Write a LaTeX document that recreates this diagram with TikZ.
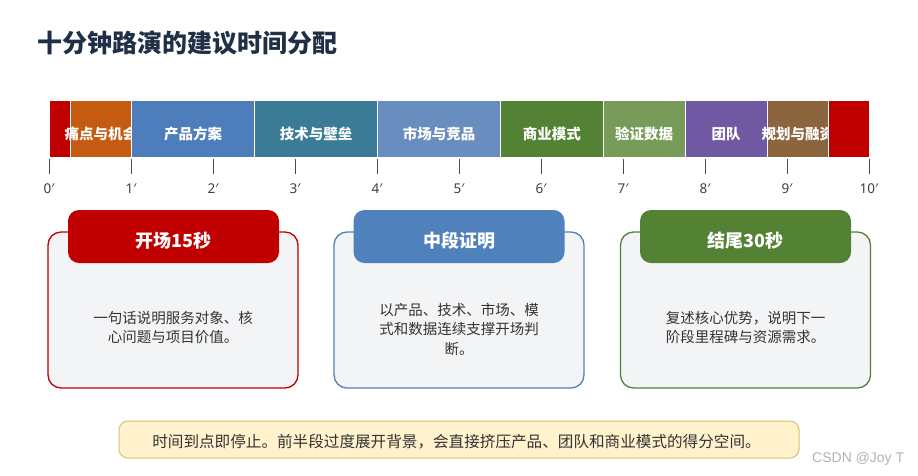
\documentclass[tikz,border=0pt]{standalone}
\usepackage{fontspec}
\setmainfont{Noto Sans CJK SC}
\newfontfamily\latinsans{Noto Sans}
\newfontfamily\wmfont{Liberation Sans}
\definecolor{titlec}{HTML}{1F2F45}
\definecolor{cred}{HTML}{C00000}
\definecolor{corange}{HTML}{C55A11}
\definecolor{cblueA}{HTML}{4D7EBB}
\definecolor{cteal}{HTML}{3B7B96}
\definecolor{cblueB}{HTML}{6A8DBF}
\definecolor{cgreenA}{HTML}{548235}
\definecolor{cgreenB}{HTML}{779C5A}
\definecolor{cpurple}{HTML}{7058A2}
\definecolor{cbrown}{HTML}{8C643E}
\definecolor{chead}{HTML}{4F81BD}
\definecolor{cardfill}{HTML}{F3F4F6}
\definecolor{bodytext}{HTML}{333333}
\definecolor{notefill}{HTML}{FFF2CC}
\definecolor{notedraw}{HTML}{D8C070}
\tikzset{
  segbox/.style={draw=white, line width=1.4pt, inner sep=0pt, minimum height=58, anchor=west},
  seglabel/.style={text=white, font=\bfseries\fontsize{14.5}{16}\selectfont, inner sep=0pt},
  tickline/.style={draw=black!70, line width=1pt},
  ticklabel/.style={text=black!75, font=\latinsans\fontsize{13.5}{15}\selectfont, inner sep=0pt},
  cardbox/.style={rounded corners=13pt, fill=cardfill, line width=1.3pt, minimum width=250, minimum height=156, inner sep=0pt},
  headbox/.style={rounded corners=11pt, minimum width=211, minimum height=53, inner sep=0pt},
  headtext/.style={text=white, font=\bfseries\fontsize{18}{20}\selectfont, inner sep=0pt},
  bodybox/.style={text=bodytext, align=center, font=\fontsize{14.5}{19.5}\selectfont, inner sep=0pt},
}
\begin{document}
\begin{tikzpicture}[x=1pt, y=-1pt]
\useasboundingbox[fill=white] (0,0) rectangle (918,475);
% title
\node[anchor=west, text=titlec, font=\bfseries\fontsize{25}{28}\selectfont, inner sep=0pt] (title) at (37,43) {十分钟路演的建议时间分配};
% segments
\foreach \a/\b/\c/\t/\n in {0/0.25/cred//s0, 0.25/1/corange/痛点与机会/s1, 1/2.5/cblueA/产品方案/s2, 2.5/4/cteal/技术与壁垒/s3, 4/5.5/cblueB/市场与竞品/s4, 5.5/6.75/cgreenA/商业模式/s5, 6.75/7.75/cgreenB/验证数据/s6, 7.75/8.75/cpurple/团队/s7, 8.75/9.5/cbrown/规划与融资/s8, 9.5/10/cred//s9}{
  \pgfmathsetmacro{\xa}{49+82*\a}
  \pgfmathsetmacro{\w}{82*(\b-\a)}
  \node[segbox, fill=\c, minimum width=\w] (\n) at (\xa,129) {};
  \node[seglabel] (\n l) at ([yshift=-5pt]\n.center) {\t};
}
% ticks
\foreach \i in {0,...,10}{
  \pgfmathsetmacro{\xt}{49+82*\i}
  \coordinate (t\i a) at (\xt,159);
  \coordinate (t\i b) at (\xt,174);
  \draw[tickline] (t\i a) -- (t\i b);
  \node[ticklabel] (tl\i) at (\xt,189) {\i′};
}
% cards
\node[cardbox, draw=cred] (c1) at (173,310) {};
\node[headbox, fill=cred] (h1) at (173.5,236.5) {};
\node[headtext] (h1t) at (173.5,241) {开场15秒};
\node[bodybox] (b1) at (173,327.5) {一句话说明服务对象、核\\心问题与项目价值。};

\node[cardbox, draw=chead] (c2) at (459,310) {};
\node[headbox, fill=chead] (h2) at (459,236.5) {};
\node[headtext] (h2t) at (459,241) {中段证明};
\node[bodybox] (b2) at (459,329) {以产品、技术、市场、模\\式和数据连续支撑开场判\\断。};

\node[cardbox, draw=cgreenA] (c3) at (745.5,310) {};
\node[headbox, fill=cgreenA] (h3) at (745.5,236.5) {};
\node[headtext] (h3t) at (745.5,241) {结尾30秒};
\node[bodybox] (b3) at (745.5,327.5) {复述核心优势，说明下一\\阶段里程碑与资源需求。};

% note
\node[rounded corners=9pt, fill=notefill, draw=notedraw, line width=1pt, minimum width=680, minimum height=37, inner sep=0pt] (note) at (459,439.5) {};
\node[text=bodytext, font=\fontsize{15.6}{18}\selectfont, inner sep=0pt] (notet) at (456.5,442) {时间到点即停止。前半段过度展开背景，会直接挤压产品、团队和商业模式的得分空间。};
% watermark
\node[text=black!30, font=\wmfont\fontsize{14}{16}\selectfont, inner sep=0pt, anchor=west] (wm) at (812,459) {CSDN @Joy T};
\end{tikzpicture}
\end{document}
